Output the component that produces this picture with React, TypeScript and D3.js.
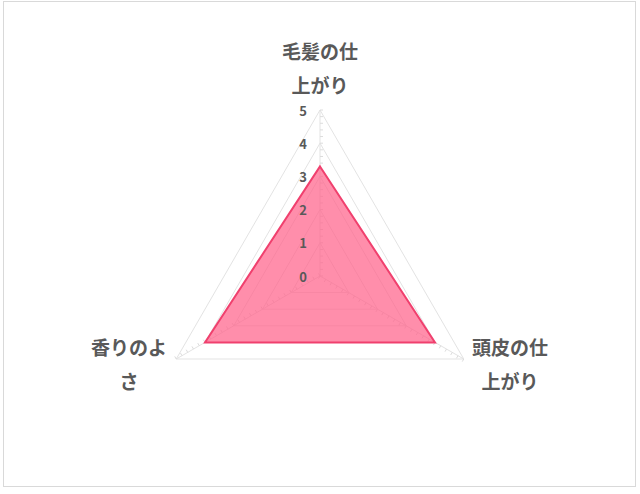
import React from "react";
import * as d3 from "d3";

const categories: string[][] = [["毛髪の仕", "上がり"], ["頭皮の仕", "上がり"], ["香りのよ", "さ"]];
const values: number[] = [3.3, 4, 4];
const tickValues: number[] = [0, 1, 2, 3, 4, 5];

const W = 640;
const H = 494;
const cx = 320;
const cy = 276;
const R = 166;

export default function App() {
  const r = d3.scaleLinear().domain([0, 5]).range([0, R]);
  const n = categories.length;
  const angle = (i: number) => (i * 2 * Math.PI) / n;
  const pt = (i: number, v: number): [number, number] => [
    cx + r(v) * Math.sin(angle(i)),
    cy - r(v) * Math.cos(angle(i)),
  ];
  const line = d3.line<[number, number]>().curve(d3.curveLinearClosed);
  const rings = tickValues.filter((t) => t > 0);
  const minor = d3.range(0, 5.0001, 0.2);
  const labelPos = [
    { x: 320, y: 50 },
    { x: 510, y: 346 },
    { x: 129, y: 346 },
  ];
  return (
    <svg width={W} height={H} style={{ position: "absolute", left: 0, top: 0 }}>
      <rect x={3.5} y={1.5} width={632} height={485} fill="#fff" stroke="#d9d9d9" strokeWidth={1} />
      {rings.map((t) => (
        <path
          key={t}
          d={line(d3.range(n).map((i) => pt(i, t))) || ""}
          fill="none"
          stroke="#e3e3e3"
          strokeWidth={1}
        />
      ))}
      {d3.range(n).map((i) => {
        const [x, y] = pt(i, 5);
        return <line key={i} x1={cx} y1={cy} x2={x} y2={y} stroke="#e3e3e3" strokeWidth={1} />;
      })}
      {d3.range(n).map((i) =>
        minor.map((m, k) => {
          const [x, y] = pt(i, m);
          const a = angle(i);
          const px = Math.cos(a) * 3;
          const py = Math.sin(a) * 3;
          return <line key={i + "-" + k} x1={x} y1={y} x2={x + px} y2={y + py} stroke="#dcdcdc" strokeWidth={1} />;
        })
      )}
      <path
        d={line(values.map((v, i) => pt(i, v))) || ""}
        fill="rgba(255,99,138,0.72)"
        stroke="#f0406e"
        strokeWidth={2}
        strokeLinejoin="miter"
      />
      {tickValues.map((t) => (
        <text
          key={t}
          x={307}
          y={cy - r(t)}
          textAnchor="end"
          dominantBaseline="central"
          fontFamily="'Noto Sans CJK JP', 'Noto Sans', sans-serif"
          fontSize={13}
          fontWeight="bold"
          fill="#595959"
        >
          {t}
        </text>
      ))}
      {categories.map((lines, i) =>
        lines.map((s, k) => (
          <text
            key={i + "-" + k}
            x={labelPos[i].x}
            y={labelPos[i].y + k * 34}
            textAnchor="middle"
            dominantBaseline="central"
            fontFamily="'Noto Sans CJK JP', sans-serif"
            fontSize={19}
            fontWeight="bold"
            fill="#595959"
          >
            {s}
          </text>
        ))
      )}
    </svg>
  );
}
